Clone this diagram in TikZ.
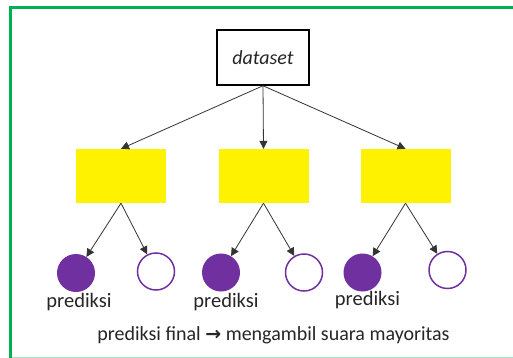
\documentclass[tikz,border=0pt]{standalone}
\usepackage{fontspec}
\setmainfont{Carlito}
\newfontfamily\symfont{DejaVu Sans}
\usetikzlibrary{arrows.meta}
\definecolor{officegreen}{HTML}{00B050}
\definecolor{officepurple}{HTML}{7030A0}
\definecolor{txt}{HTML}{262626}
\begin{document}
\begin{tikzpicture}[x=1pt,y=-1pt,
  arr/.style={draw=black!80, line width=0.8pt, -{Triangle[length=8pt,width=8pt]}},
  dsbox/.style={draw=black, line width=1.5pt, minimum width=92pt, minimum height=55pt, inner sep=0pt, font=\fontsize{20}{22}\selectfont\itshape, text=txt},
  ybox/.style={fill=yellow, minimum width=90pt, minimum height=54pt, inner sep=0pt},
  pfull/.style={circle, fill=officepurple, minimum size=38pt, inner sep=0pt},
  pempty/.style={circle, draw=officepurple, line width=1.5pt, fill=white, minimum size=37pt, inner sep=0pt},
  lbl/.style={font=\fontsize{20.5}{22}\selectfont, text=txt, inner sep=0pt}]
\useasboundingbox (0,0) rectangle (513,358);
\fill[white] (0,0) rectangle (513,358);
\draw[officegreen, line width=3pt] (10.5,358) -- (10.5,7.5) -- (513,7.5);
\draw[officegreen!35, line width=1pt] (12,357) -- (513,357);
\node[dsbox] (ds) at (263,57.5) {dataset};
\node[ybox] (y1) at (121,176) {};
\node[ybox] (y2) at (263.5,176) {};
\node[ybox] (y3) at (405.5,176) {};
\node[pfull] (c1) at (76,273) {};
\node[pempty] (o1) at (156,271.5) {};
\node[pfull] (c2) at (221,272.5) {};
\node[pempty] (o2) at (304,272.5) {};
\node[pfull] (c3) at (362.5,272.5) {};
\node[pempty] (o3) at (447.5,270) {};
\draw[arr] (ds.south) -- (y1.north);
\draw[arr] (ds.south) -- (y2.north);
\draw[arr] (ds.south) -- (y3.north);
\draw[arr] (y1.south) -- (c1);
\draw[arr] (y1.south) -- (o1);
\draw[arr] (y2.south) -- (c2);
\draw[arr] (y2.south) -- (o2);
\draw[arr] (y3.south) -- (c3);
\draw[arr] (y3.south) -- (o3);
\node[lbl] (p1) at (79,302) {prediksi};
\node[lbl] (p2) at (226,302) {prediksi};
\node[lbl] (p3) at (367.5,300) {prediksi};
\node[lbl, font=\fontsize{20}{22}\selectfont] (fin) at (273.5,335) {prediksi final {\symfont\bfseries\fontsize{19}{20}\selectfont →} mengambil suara mayoritas};
\end{tikzpicture}
\end{document}
